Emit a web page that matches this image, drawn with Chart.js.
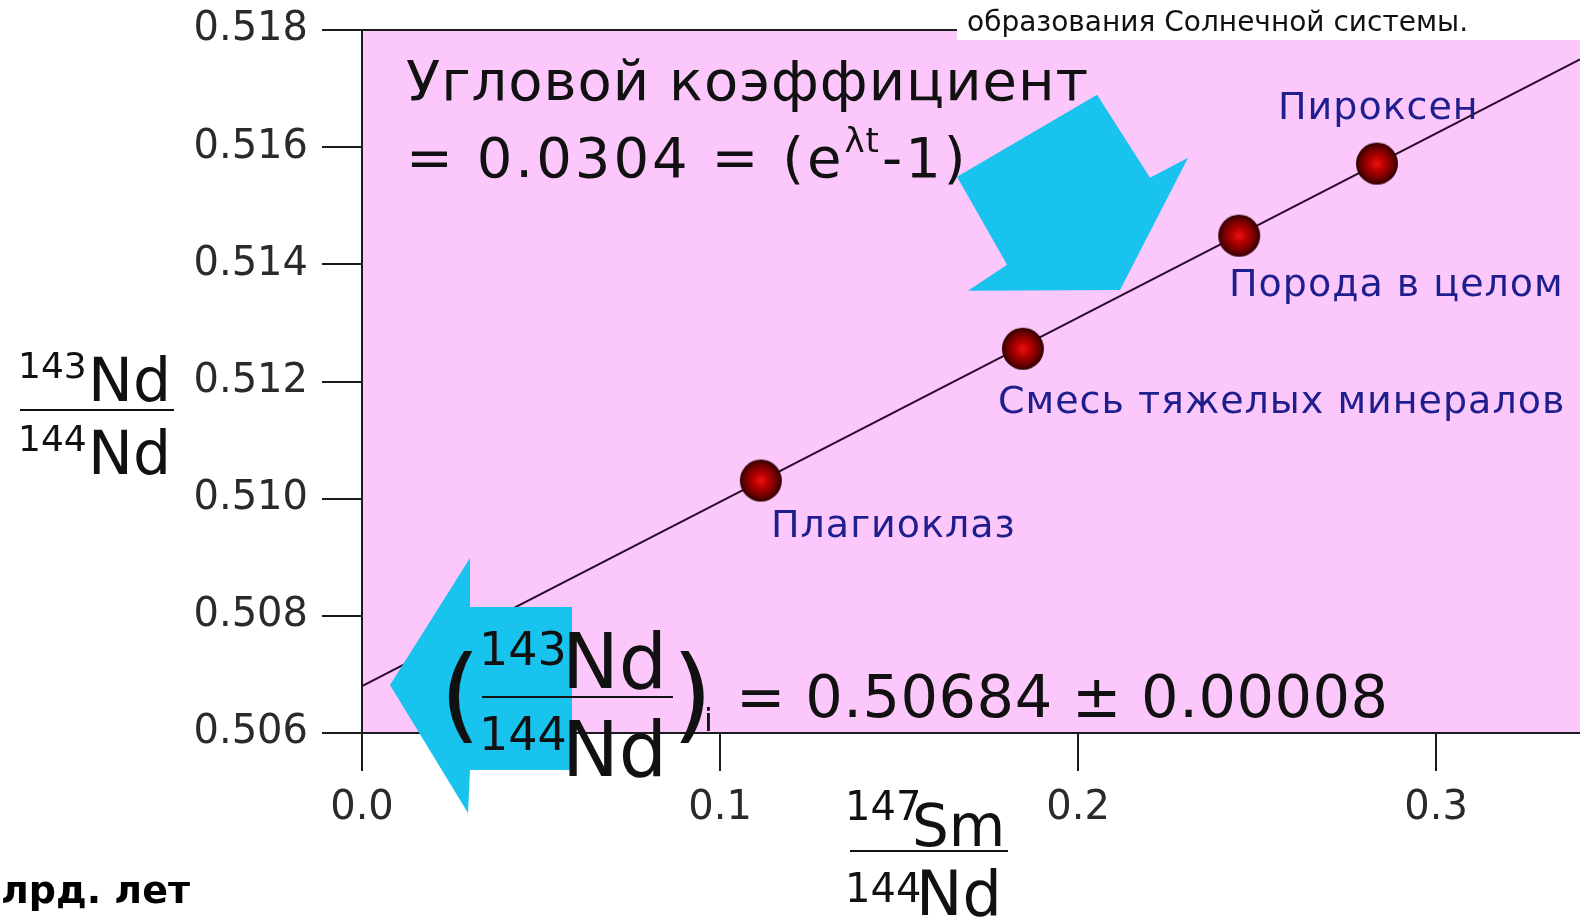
<!DOCTYPE html>
<html>
<head>
<meta charset="utf-8">
<script src="https://cdn.jsdelivr.net/npm/chart.js@4.4.0/dist/chart.umd.min.js"></script>
<style>
html,body{margin:0;padding:0;background:#fff;overflow:hidden}
</style>
</head>
<body>
<canvas id="myChart" width="1580" height="917"></canvas>
<script>
// Sm-Nd isochron, values
const mineralNames = ["Плагиоклаз", "Смесь тяжелых минералов", "Порода в целом", "Пироксен"];
const smNdRatio = [0.1114, 0.1846, 0.2450, 0.2835];
const ndNdRatio = [0.51031, 0.51256, 0.51449, 0.51572];

// isochron line end points
const isochronX = [0, 0.3402];
const isochronY = [0.5068, 0.5175];

const xTickValues = [0.0, 0.1, 0.2, 0.3];
const yTickValues = [0.506, 0.508, 0.510, 0.512, 0.514, 0.516, 0.518];

// cyan arrows, outline given in axis units
const downArrowX = [0.20531, 0.22011, 0.23073, 0.21173, 0.16927, 0.18017, 0.16620];
const downArrowY = [0.516894, 0.515476, 0.515818, 0.513564, 0.513547, 0.513991, 0.515493];
const leftArrowX = [0.00782, 0.03017, 0.03017, 0.05866, 0.05866, 0.03017, 0.02961];
const leftArrowY = [0.506820, 0.508988, 0.508151, 0.508151, 0.505368, 0.505368, 0.504634];

const pinkBg = "#fcc8fc";
const cyan = "#18c3ee";
const axisColor = "#1c1c1c";
const labelColor = "#1e1e8c";
const FONT = "DejaVu Sans";

function makeSphere(r){
    const c = document.createElement("canvas");
    c.width = c.height = r*2 + 2;
    const g = c.getContext("2d");
    const m = r + 1;
    const grad = g.createRadialGradient(m, m, 0, m, m, r);
    grad.addColorStop(0, "#f01212");
    grad.addColorStop(0.35, "#b80000");
    grad.addColorStop(0.8, "#640000");
    grad.addColorStop(1, "#2c0000");
    g.fillStyle = grad;
    g.beginPath();
    g.arc(m, m, r, 0, Math.PI*2);
    g.fill();
    return c;
}

function text(ctx, s, x, y, size, color, weight, align, spacing){
    ctx.font = (weight || "normal") + " " + size + "px '" + FONT + "'";
    ctx.fillStyle = color || "#111";
    ctx.textAlign = align || "left";
    ctx.textBaseline = "alphabetic";
    ctx.letterSpacing = (spacing || 0) + "px";
    ctx.fillText(s, x, y);
    const w = ctx.measureText(s).width;
    ctx.letterSpacing = "0px";
    return w;
}

function polygon(chart, xs, ys, color){
    const {ctx, scales} = chart;
    ctx.beginPath();
    xs.forEach((v, i) => {
        const px = scales.x.getPixelForValue(v);
        const py = scales.y.getPixelForValue(ys[i]);
        if (i === 0) ctx.moveTo(px, py); else ctx.lineTo(px, py);
    });
    ctx.closePath();
    ctx.fillStyle = color;
    ctx.fill();
}

// isotope ratio like 143Nd / 144Nd
function isoFraction(ctx, top, bottom, o){
    text(ctx, top[0], o.supX, o.supY1, o.sup);
    text(ctx, top[1], o.bigX, o.bigY1, o.big);
    ctx.fillStyle = "#111";
    ctx.fillRect(o.barX1, o.barY, o.barX2 - o.barX1, 2);
    text(ctx, bottom[0], o.supX, o.supY2, o.sup);
    text(ctx, bottom[1], o.bigX2 || o.bigX, o.bigY2, o.big2 || o.big);
}

const decor = {
    id: "decor",
    beforeDraw(chart){
        const {ctx, chartArea: a} = chart;
        ctx.save();
        ctx.fillStyle = pinkBg;
        ctx.fillRect(a.left, a.top, a.right - a.left, a.bottom - a.top);
        ctx.strokeStyle = axisColor;
        ctx.lineWidth = 2;
        ctx.beginPath();
        ctx.moveTo(a.left, a.top);
        ctx.lineTo(a.right, a.top);
        ctx.stroke();
        ctx.restore();
    },
    afterDatasetsDraw(chart){
        const ctx = chart.ctx;
        ctx.save();
        polygon(chart, downArrowX, downArrowY, cyan);
        polygon(chart, leftArrowX, leftArrowY, cyan);

        // labels next to the points
        const lab = [[771, 537], [998, 413], [1229, 296], [1278, 119]];
        mineralNames.forEach((n, i) => text(ctx, n, lab[i][0], lab[i][1], 38, labelColor, "normal", "left", 1));

        // slope
        text(ctx, "Угловой коэффициент", 406, 100, 56, "#111", "normal", "left", 1);
        let x = 406;
        x += text(ctx, "= 0.0304 = (e", x, 177, 56, "#111", "normal", "left", 3);
        x += text(ctx, "λt", x, 152, 34, "#111", "normal", "left", 1);
        text(ctx, "-1)", x + 2, 177, 56, "#111", "normal", "left", 3);

        // initial ratio
        text(ctx, "(", 440, 730, 104);
        isoFraction(ctx, ["143", "Nd"], ["144", "Nd"], {
            supX: 479, bigX: 562, supY1: 665, bigY1: 688, supY2: 750, bigY2: 776,
            sup: 46, big: 76, barY: 696, barX1: 482, barX2: 673
        });
        text(ctx, ")", 672, 730, 104);
        text(ctx, "i", 704, 731, 32);
        text(ctx, "= 0.50684 ± 0.00008", 736, 717, 59, "#111", "normal", "left", 0.5);

        ctx.restore();
    },
    afterDraw(chart){
        const ctx = chart.ctx;
        ctx.save();
        // axis titles
        isoFraction(ctx, ["143", "Nd"], ["144", "Nd"], {
            supX: 18, bigX: 88, supY1: 378, bigY1: 401, supY2: 451, bigY2: 474,
            sup: 36, big: 60, barY: 409, barX1: 20, barX2: 174
        });
        isoFraction(ctx, ["147", "Sm"], ["144", "Nd"], {
            supX: 845, bigX: 912, supY1: 820, bigY1: 846, supY2: 902, bigY2: 915, bigX2: 916,
            sup: 40, big: 58, big2: 62, barY: 850, barX1: 850, barX2: 1008
        });

        text(ctx, "млрд. лет", 190, 903, 38, "#000", "bold", "right");

        // caption box cut off at the top
        ctx.fillStyle = "#fff";
        ctx.fillRect(957, 0, 623, 40);
        text(ctx, "образования Солнечной системы.", 967, 31, 28, "#111");
        ctx.restore();
    }
};

const ctx = document.getElementById("myChart").getContext("2d");
const myChart = new Chart(ctx, {
    type: "scatter",
    data: {
        datasets: [{
            label: "Минералы",
            data: smNdRatio.map((v, i) => ({x: v, y: ndNdRatio[i]})),
            pointStyle: makeSphere(21),
            pointRadius: 21,
            order: 0
        }, {
            label: "Изохрона",
            type: "line",
            data: isochronX.map((v, i) => ({x: v, y: isochronY[i]})),
            borderColor: "#2a0a2a",
            borderWidth: 2,
            pointRadius: 0,
            fill: false,
            order: 1
        }]
    },
    options: {
        responsive: false,
        animation: false,
        devicePixelRatio: 1,
        layout: {padding: {top: 30, right: 0, bottom: 0, left: 0}, autoPadding: false},
        plugins: {
            legend: {display: false},
            tooltip: {enabled: false}
        },
        scales: {
            x: {
                type: "linear",
                min: 0,
                max: 0.3402,
                afterBuildTicks: s => { s.ticks = xTickValues.map(v => ({value: v})); },
                afterFit: s => { s.height = 184; s.paddingLeft = 0; s.paddingRight = 0; },
                ticks: {
                    font: {family: FONT, size: 40},
                    color: "#2a2a2a",
                    padding: 14,
                    callback: v => v.toFixed(1)
                },
                grid: {drawOnChartArea: false, tickLength: 38, color: axisColor, lineWidth: 2},
                border: {color: axisColor, width: 2}
            },
            y: {
                type: "linear",
                min: 0.506,
                max: 0.518,
                afterBuildTicks: s => { s.ticks = yTickValues.map(v => ({value: v})); },
                afterFit: s => { s.width = 362; s.paddingTop = 0; s.paddingBottom = 0; },
                ticks: {
                    font: {family: FONT, size: 40},
                    color: "#2a2a2a",
                    padding: 14,
                    callback: v => v.toFixed(3)
                },
                grid: {drawOnChartArea: false, tickLength: 40, color: axisColor, lineWidth: 2},
                border: {color: axisColor, width: 2}
            }
        }
    },
    plugins: [decor]
});
</script>
</body>
</html>
